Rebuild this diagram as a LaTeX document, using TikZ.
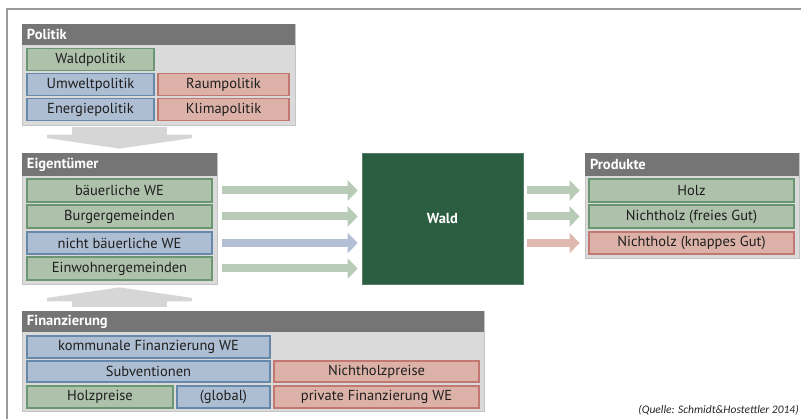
\documentclass[tikz,border=0pt]{standalone}
\usepackage{fontspec}
\setmainfont{PT Sans}
\newfontfamily\capfont{Carlito}
\usetikzlibrary{arrows.meta}
\definecolor{hdr}{HTML}{757575}
\definecolor{panelbg}{HTML}{DADADA}
\definecolor{panelbd}{HTML}{C4C4C4}
\definecolor{gfill}{HTML}{AEC2AB}
\definecolor{gdraw}{HTML}{6B9672}
\definecolor{bfill}{HTML}{ADBDD2}
\definecolor{bdraw}{HTML}{6688AA}
\definecolor{rfill}{HTML}{DCB2A8}
\definecolor{rdraw}{HTML}{C07870}
\definecolor{ag}{HTML}{B7CBB6}
\definecolor{ab}{HTML}{B2BFD4}
\definecolor{ar}{HTML}{DFB9AF}
\definecolor{bigar}{HTML}{D6D6D6}
\definecolor{waldc}{HTML}{2B5D41}
\definecolor{framec}{HTML}{9A9A9A}
\definecolor{txt}{HTML}{1E1E1E}
\tikzset{
  panel/.style={rectangle, fill=panelbg, draw=panelbd, line width=0.8pt, inner sep=0pt},
  header/.style={rectangle, fill=hdr, draw=none, inner sep=0pt},
  htext/.style={anchor=west, text=white, font=\bfseries\fontsize{14.5}{16}\selectfont, inner sep=0pt},
  cell/.style={rectangle, line width=1.1pt, inner sep=0pt, font=\fontsize{14.5}{16}\selectfont, text=txt},
  gbox/.style={cell, fill=gfill, draw=gdraw},
  bbox/.style={cell, fill=bfill, draw=bdraw},
  rbox/.style={cell, fill=rfill, draw=rdraw},
  flow/.style={line width=8pt, -{Triangle[length=10pt,width=20pt]}},
  bigarrow/.style={draw=bigar, line width=95pt, -{Triangle[length=14pt,width=193pt]}},
}
\begin{document}
\begin{tikzpicture}[x=1pt,y=-1pt]
\useasboundingbox (0,0) rectangle (801,419);
% frame
\draw[framec, line width=1.5pt] (7,419) -- (7,9) -- (801,9);

% Politik
\node[panel, minimum width=273, minimum height=101] (pol) at (158.5,74.5) {};
\node[header, minimum width=273, minimum height=21] (polh) at (158.5,34.5) {};
\node[htext] (polt) at ([xshift=5pt]polh.west) {Politik};
\node[gbox, minimum width=127, minimum height=22] (wp) at (90.5,59.5) {Waldpolitik};
\node[bbox, minimum width=127, minimum height=22] (up) at (90.5,84.5) {Umweltpolitik};
\node[rbox, minimum width=131, minimum height=22] (rp) at (223.5,84.5) {Raumpolitik};
\node[bbox, minimum width=127, minimum height=22] (ep) at (90.5,109.5) {Energiepolitik};
\node[rbox, minimum width=131, minimum height=22] (kp) at (223.5,109.5) {Klimapolitik};

% Eigentuemer
\node[panel, minimum width=195, minimum height=131] (eig) at (119.5,218.5) {};
\node[header, minimum width=195, minimum height=23] (eigh) at (119.5,164.5) {};
\node[htext] (eigt) at ([xshift=5pt]eigh.west) {Eigentümer};
\node[gbox, minimum width=185, minimum height=23] (e1) at (119.5,190.5) {bäuerliche WE};
\node[gbox, minimum width=185, minimum height=23] (e2) at (119.5,216.5) {Burgergemeinden};
\node[bbox, minimum width=185, minimum height=22] (e3) at (119.5,243) {nicht bäuerliche WE};
\node[gbox, minimum width=185, minimum height=23] (e4) at (119.5,268.5) {Einwohnergemeinden};

% Wald
\node[rectangle, fill=waldc, draw=waldc!80!white, line width=0.6pt, minimum width=161, minimum height=131, inner sep=0pt,
      text=white, font=\bfseries\fontsize{14.5}{16}\selectfont] (wald) at (442.5,218.5) {Wald};

% Produkte
\node[panel, minimum width=214, minimum height=105] (prod) at (692,205.5) {};
\node[header, minimum width=214, minimum height=23] (prodh) at (692,164.5) {};
\node[htext] (prodt) at ([xshift=5pt]prodh.west) {Produkte};
\node[gbox, minimum width=205, minimum height=23] (p1) at (691.5,190.5) {Holz};
\node[gbox, minimum width=205, minimum height=23] (p2) at (691.5,216.5) {Nichtholz (freies Gut)};
\node[rbox, minimum width=205, minimum height=22] (p3) at (691.5,243) {Nichtholz (knappes Gut)};

% Finanzierung
\node[panel, minimum width=462, minimum height=100] (fin) at (253,361) {};
\node[header, minimum width=462, minimum height=21] (finh) at (253,321.5) {};
\node[htext] (fint) at ([xshift=5pt]finh.west) {Finanzierung};
\node[bbox, minimum width=243, minimum height=22] (f1) at (148.5,347) {kommunale Finanzierung WE};
\node[bbox, minimum width=243, minimum height=21] (f2) at (148.5,371.5) {Subventionen};
\node[rbox, minimum width=205, minimum height=21] (f3) at (376.5,371.5) {Nichtholzpreise};
\node[gbox, minimum width=146, minimum height=22] (f4) at (100,397) {Holzpreise};
\node[bbox, minimum width=93, minimum height=22] (f5) at (223.5,397) {(global)};
\node[rbox, minimum width=205, minimum height=22] (f6) at (376.5,397) {private Finanzierung WE};

% big gray arrows
\draw[bigarrow, shorten <=2pt, shorten >=4pt] (eig.north |- pol.south) -- (eig.north);
\draw[bigarrow, shorten <=4pt, shorten >=3pt] (eig.south |- fin.north) -- (eig.south);

% flow arrows Eigentuemer -> Wald
\draw[flow, draw=ag, shorten <=5pt, shorten >=4pt] (e1.east -| eig.east) -- (e1.east -| wald.west);
\draw[flow, draw=ag, shorten <=5pt, shorten >=4pt] (e2.east -| eig.east) -- (e2.east -| wald.west);
\draw[flow, draw=ab, shorten <=5pt, shorten >=4pt] (e3.east -| eig.east) -- (e3.east -| wald.west);
\draw[flow, draw=ag, shorten <=5pt, shorten >=4pt] (e4.east -| eig.east) -- (e4.east -| wald.west);

% flow arrows Wald -> Produkte
\draw[flow, draw=ag, shorten <=4pt, shorten >=5pt] (p1.west -| wald.east) -- (p1.west -| prod.west);
\draw[flow, draw=ag, shorten <=4pt, shorten >=5pt] (p2.west -| wald.east) -- (p2.west -| prod.west);
\draw[flow, draw=ar, shorten <=4pt, shorten >=5pt] (p3.west -| wald.east) -- (p3.west -| prod.west);

% caption
\node[anchor=base east, inner sep=0pt, font=\capfont\itshape\fontsize{11.5}{13}\selectfont, text=black!85] (cap) at (799,414) {(Quelle: Schmidt\&Hostettler 2014)};
\end{tikzpicture}
\end{document}
